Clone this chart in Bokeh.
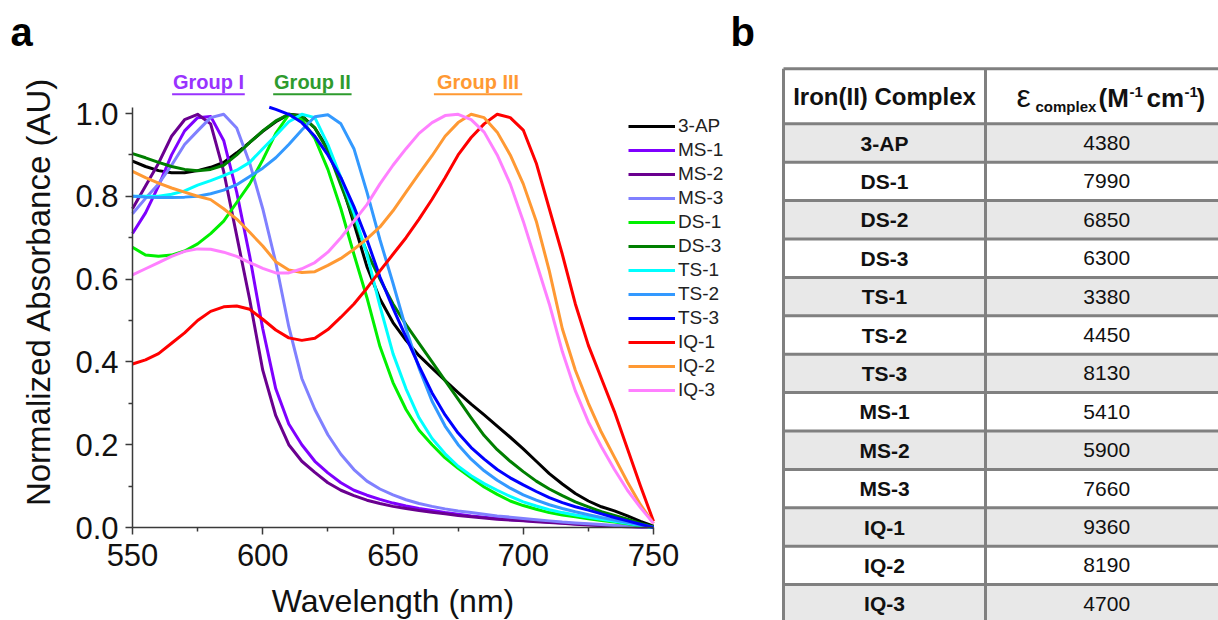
import math
from bokeh.plotting import figure
from bokeh.models import (Range1d, Legend, LegendItem, FixedTicker, PrintfTickFormatter)
from bokeh.layouts import row
from bokeh.embed import file_html
from bokeh.resources import INLINE
from bokeh.core.properties import value

# ---------------- data: panel a ----------------
wavelength = list(range(550, 751, 5))

abs_3ap = [.885, .872, .862, .857, .857, .862, .870, .882, .905, .930, .957, .980, .998, .995, .965, .915, .835, .735, .630, .552,
           .495, .452, .415, .385, .355, .326, .298, .272, .245, .218, .190, .160, .130, .105, .082, .064, .050, .040, .028, .015, .003]
abs_ms1 = [.710, .760, .825, .900, .958, .990, .993, .935, .810, .655, .480, .335, .250, .200, .160, .132, .108, .090, .078, .068,
           .059, .052, .046, .041, .036, .032, .028, .025, .022, .019, .017, .015, .013, .011, .009, .007, .005, .004, .003, .001, .000]
abs_ms2 = [.770, .825, .880, .945, .985, .998, .975, .860, .705, .550, .380, .270, .200, .160, .133, .108, .090, .077, .066, .058,
           .051, .046, .041, .037, .033, .029, .026, .023, .020, .018, .016, .014, .012, .010, .008, .006, .005, .003, .002, .001, .000]
abs_ms3 = [.758, .795, .830, .875, .925, .958, .990, .998, .965, .880, .770, .640, .485, .360, .285, .224, .177, .140, .112, .093,
           .079, .067, .058, .051, .045, .040, .036, .032, .028, .025, .022, .019, .016, .013, .011, .009, .007, .005, .003, .002, .000]
abs_ds1 = [.677, .658, .655, .658, .668, .685, .710, .740, .785, .830, .888, .952, .997, .985, .940, .865, .770, .660, .555, .437,
           .350, .285, .235, .200, .168, .143, .120, .098, .080, .064, .053, .044, .036, .030, .026, .021, .017, .013, .009, .004, .000]
abs_ds3 = [.903, .893, .882, .872, .865, .862, .865, .875, .900, .930, .958, .982, .998, .993, .965, .910, .827, .745, .665, .600,
           .540, .490, .445, .400, .355, .310, .265, .222, .188, .160, .135, .112, .093, .077, .062, .050, .038, .029, .020, .010, .002]
abs_ts1 = [.800, .800, .800, .805, .813, .827, .838, .850, .863, .882, .915, .947, .980, .998, .990, .925, .845, .760, .660, .535,
           .420, .335, .265, .215, .178, .148, .125, .106, .090, .075, .062, .052, .043, .036, .030, .025, .020, .015, .010, .005, .000]
abs_ts2 = [.800, .798, .797, .797, .798, .800, .806, .815, .828, .848, .868, .893, .925, .960, .992, .997, .975, .915, .810, .695,
           .590, .480, .385, .305, .245, .200, .165, .137, .114, .095, .079, .066, .055, .046, .038, .031, .024, .018, .012, .006, .000]
ts3_wavelength = [602.5] + list(range(605, 751, 5))
abs_ts3 = [1.015, 1.010, .998, .978, .945, .900, .845, .775, .695, .605, .530, .460, .390, .325, .272, .228, .193, .165, .140, .120,
           .103, .087, .072, .060, .050, .042, .033, .024, .016, .008, .000]
abs_iq1 = [.395, .405, .420, .445, .470, .500, .522, .533, .535, .527, .503, .477, .458, .452, .457, .478, .508, .540, .578, .620,
           .660, .700, .745, .793, .845, .900, .942, .975, .998, .990, .960, .880, .770, .660, .540, .440, .360, .280, .190, .100, .015]
abs_iq2 = [.860, .845, .832, .820, .810, .800, .792, .770, .745, .713, .680, .642, .622, .616, .618, .633, .650, .672, .697, .726,
           .765, .810, .855, .898, .945, .978, .998, .990, .955, .900, .830, .740, .620, .480, .380, .300, .230, .170, .110, .055, .010]
abs_iq3 = [.610, .625, .640, .655, .667, .673, .672, .665, .655, .640, .626, .615, .615, .625, .640, .665, .700, .740, .780, .830,
           .875, .915, .952, .978, .995, .998, .985, .955, .900, .830, .740, .640, .540, .425, .330, .255, .195, .140, .090, .048, .010]

series_names = ["3-AP", "MS-1", "MS-2", "MS-3", "DS-1", "DS-3", "TS-1", "TS-2", "TS-3", "IQ-1", "IQ-2", "IQ-3"]
series_x = [wavelength] * 8 + [ts3_wavelength] + [wavelength] * 3
series_y = [abs_3ap, abs_ms1, abs_ms2, abs_ms3, abs_ds1, abs_ds3, abs_ts1, abs_ts2, abs_ts3, abs_iq1, abs_iq2, abs_iq3]
series_colors = ["#000000", "#7F00FF", "#6A008F", "#8080FF", "#00F000", "#007F00",
                 "#00FFFF", "#3399FF", "#0000FF", "#FF0000", "#FF9933", "#FF80FF"]

x_ticks = [550, 600, 650, 700, 750]
x_minor = [575, 625, 675, 725]
y_ticks = [0.0, 0.2, 0.4, 0.6, 0.8, 1.0]
y_minor = [0.1, 0.3, 0.5, 0.7, 0.9]

group_names = ["Group I", "Group II", "Group III"]
group_colors = ["#9933FF", "#2E9B2E", "#FF9933"]
group_start = [565.2, 604.0, 665.7]
group_end = [593.1, 634.1, 699.6]

# ---------------- data: panel b ----------------
complexes = ["3-AP", "DS-1", "DS-2", "DS-3", "TS-1", "TS-2", "TS-3",
             "MS-1", "MS-2", "MS-3", "IQ-1", "IQ-2", "IQ-3"]
epsilon = [4380, 7990, 6850, 6300, 3380, 4450, 8130, 5410, 5900, 7660, 9360, 8190, 4700]

FONT = "Liberation Sans"
AX = "#3a3a3a"
TXT = "#111111"
H = 620


def mid_px(baseline_px, size_px):
    """screen y of a 'middle'-anchored text whose baseline should sit at baseline_px"""
    return baseline_px - 0.3465 * size_px


# ---- panel a geometry (pixels) ----
WA = 727
PX_LEFT, PX_RIGHT = 132, 653       # x = 550 and x = 750
PY_ZERO, PY_ONE = 527, 113         # y = 0 and y = 1
sx = (PX_RIGHT - PX_LEFT) / (x_ticks[-1] - x_ticks[0])
sy = (PY_ZERO - PY_ONE)
x0 = x_ticks[0] - PX_LEFT / sx
x1 = x_ticks[0] + (WA - PX_LEFT) / sx
y0 = -(H - PY_ZERO) / sy
y1 = PY_ZERO / sy


def ax_x(px):
    return x0 + px / sx


def ax_y(py):
    return (PY_ZERO - py) / sy


pa = figure(width=WA, height=H, x_range=Range1d(x0, x1), y_range=Range1d(y0, y1),
            output_backend="svg", toolbar_location=None, min_border=0)
pa.outline_line_color = None
pa.grid.visible = False

rends = []
for xs, ys, c in zip(series_x, series_y, series_colors):
    rends.append(pa.line(xs, ys, line_color=c, line_width=3, line_join="round"))

xa = pa.xaxis[0]
xa.ticker = FixedTicker(ticks=x_ticks, minor_ticks=x_minor)
xa.bounds = (x_ticks[0], x_ticks[-1])
xa.fixed_location = 0
ya = pa.yaxis[0]
ya.ticker = FixedTicker(ticks=y_ticks, minor_ticks=y_minor)
ya.bounds = (0, 1.015)
ya.fixed_location = x_ticks[0]
ya.formatter = PrintfTickFormatter(format="%.1f")
for ax in (xa, ya):
    ax.axis_line_color = AX
    ax.axis_line_width = 1.5
    ax.major_tick_line_color = AX
    ax.major_tick_line_width = 1.5
    ax.minor_tick_line_color = AX
    ax.minor_tick_line_width = 1.5
    ax.major_tick_in = 0
    ax.major_tick_out = 7
    ax.minor_tick_in = 0
    ax.minor_tick_out = 4
    ax.major_label_text_font = FONT
    ax.major_label_text_font_size = "31px"
    ax.major_label_text_color = TXT
    ax.axis_label_text_font = FONT
    ax.axis_label_text_font_style = "normal"
    ax.axis_label_text_color = TXT
xa.axis_label = "Wavelength (nm)"
xa.axis_label_text_font_size = "32px"
xa.major_label_standoff = 9
xa.axis_label_standoff = 14
ya.major_label_standoff = 7

# y-axis title (placed like the original, centred a little above the axis middle)
pa.text(x=[ax_x(38)], y=[ax_y(291)], text=["Normalized Absorbance (AU)"], angle=math.pi / 2,
        text_font=value(FONT), text_font_size="33px", text_align="center",
        text_baseline="middle", text_color=TXT)

legend = Legend(items=[LegendItem(label=n, renderers=[r]) for n, r in zip(series_names, rends)],
                location=(628, 218))
legend.glyph_width = 47
legend.glyph_height = 24
legend.label_height = 24
legend.spacing = 0
legend.padding = 0
legend.margin = 0
legend.label_standoff = 3
legend.border_line_color = None
legend.background_fill_alpha = 0
legend.label_text_font = FONT
legend.label_text_font_size = "19px"
legend.label_text_color = "#222222"
pa.add_layout(legend)

group_mid = [(a + b) / 2 for a, b in zip(group_start, group_end)]
pa.text(x=group_mid, y=[ax_y(mid_px(88, 20))] * 3, text=group_names, text_color=group_colors,
        text_font=value(FONT), text_font_style="bold", text_font_size="20px",
        text_align="center", text_baseline="middle")
pa.segment(x0=group_start, y0=[ax_y(93.8)] * 3, x1=group_end, y1=[ax_y(93.8)] * 3,
           line_color=group_colors, line_width=2)

pa.text(x=[ax_x(10)], y=[ax_y(mid_px(45, 40))], text=["a"], text_font=value(FONT),
        text_font_style="bold", text_font_size="40px", text_baseline="middle",
        text_align="left", text_color="#000000")

# ================= panel b =================
WB = 1218 - WA
TABLE_LEFT_PX = 783 - WA          # left border, pb canvas px
COL_PX = 202                      # first column width
ROW_PX = 38.4
TOP_PX = 68.3
HEADER_H = 55 / ROW_PX
TABLE_RIGHT = 2.2
n = len(complexes)

bx0 = -TABLE_LEFT_PX / COL_PX
bx1 = (WB - TABLE_LEFT_PX) / COL_PX
by_top = -TOP_PX / ROW_PX
by_bot = (H - TOP_PX) / ROW_PX


def tb_x(page_x):
    return (page_x - 783) / COL_PX


def tb_y(page_y):
    return (page_y - TOP_PX) / ROW_PX


pb = figure(width=WB, height=H,
            x_range=Range1d(bx0, bx1), y_range=Range1d(by_bot, by_top),
            output_backend="svg", toolbar_location=None, min_border=0,
            x_axis_type=None, y_axis_type=None)
pb.outline_line_color = None

row_top = [HEADER_H + i for i in range(n)]
row_mid = [t + 0.5 for t in row_top]
fills = ["#E8E8E8" if i % 2 == 0 else "#FFFFFF" for i in range(n)]
pb.quad(left=0, right=TABLE_RIGHT, top=row_top, bottom=[t + 1 for t in row_top],
        fill_color=fills, line_color=None)

hy = [0, HEADER_H] + [t + 1 for t in row_top]
pb.segment(x0=[0] * len(hy), x1=[TABLE_RIGHT] * len(hy), y0=hy, y1=hy,
           line_color="#808080", line_width=3)
vx = [0, 1, TABLE_RIGHT]
pb.segment(x0=vx, x1=vx, y0=[0] * 3, y1=[HEADER_H + n] * 3, line_color="#808080", line_width=3)

pb.text(x=[0.5] * n, y=row_mid, text=complexes, text_font=value(FONT), text_font_style="bold",
        text_font_size="21px", text_align="center", text_baseline="middle", text_color=TXT)
pb.text(x=[1.6] * n, y=row_mid, text=[str(v) for v in epsilon], text_font=value(FONT),
        text_font_size="21px", text_align="center", text_baseline="middle", text_color=TXT)

pb.text(x=[0.5], y=[HEADER_H / 2], text=["Iron(II) Complex"], text_font=value(FONT),
        text_font_style="bold", text_font_size="24px", text_align="center",
        text_baseline="middle", text_color=TXT)

# epsilon_complex (M^-1 cm^-1) header, built from pieces
pb.text(x=[tb_x(1016)], y=[tb_y(mid_px(107, 32))], text=["ε"], text_font=value(FONT),
        text_font_size="32px", text_align="left", text_baseline="middle", text_color=TXT)
pb.text(x=[tb_x(1035)], y=[tb_y(mid_px(111, 15))], text=["complex"], text_font=value(FONT),
        text_font_style="bold", text_font_size="15px", text_align="left",
        text_baseline="middle", text_color=TXT)
pb.text(x=[tb_x(1098), tb_x(1146), tb_x(1196)], y=[tb_y(mid_px(107, 26))] * 3,
        text=["(M", "cm", ")"], text_font=value(FONT),
        text_font_style="bold", text_font_size="26px", text_align="left",
        text_baseline="middle", text_color=TXT)
pb.text(x=[tb_x(1129), tb_x(1184)], y=[tb_y(mid_px(97, 15))] * 2, text=["-1", "-1"],
        text_font=value(FONT), text_font_style="bold", text_font_size="15px",
        text_align="left", text_baseline="middle", text_color=TXT)

pb.text(x=[tb_x(730)], y=[tb_y(mid_px(45, 40))], text=["b"],
        text_font=value(FONT), text_font_style="bold", text_font_size="40px",
        text_align="left", text_baseline="middle", text_color="#000000")

layout = row(pa, pb)
open("out.html", "w").write(file_html(layout, INLINE, "Absorbance"))
